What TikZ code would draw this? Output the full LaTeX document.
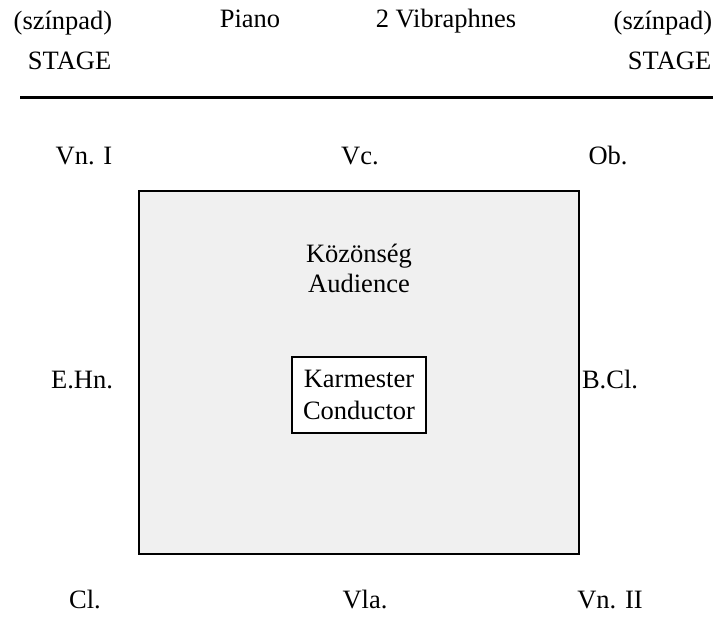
\documentclass[tikz,border=0pt]{standalone}
\usepackage{fontspec}
\setmainfont{Liberation Serif}
\usetikzlibrary{positioning}

\begin{document}
\begin{tikzpicture}[x=1pt,y=-1pt]
\tikzset{PlayerStyle/.style = {font=\fontsize{26.5}{31}\selectfont, inner sep=0pt, align=center}}
\tikzset{LineStyle/.style = {PlayerStyle, text height=18pt, text depth=6pt}}
\tikzset{StageStyle/.style = {PlayerStyle, font=\fontsize{26.5}{40}\selectfont}}
\tikzset{HallStyle/.style = {draw, line width=2.5pt, fill=black!6}}
\tikzset{PodiumStyle/.style = {draw, line width=2pt, fill=white, minimum width=134pt, minimum height=76pt}}
\useasboundingbox (0,0) rectangle (723,616);
% stage
\node[StageStyle](SL) at (63,40){(színpad)\\\ \ STAGE};
\node[LineStyle](Pno) at (250,21){Piano};
\node[LineStyle](Vib) at (446,21){2 Vibraphnes};
\node[StageStyle](SR) at (663,40){(színpad)\\\ \ STAGE};
\coordinate (stageL) at (20,97);
\coordinate (stageR) at (713,97);
\draw[line width=3pt](stageL) -- (stageR);
% hall
\node[HallStyle, minimum width=440pt, minimum height=363pt](Hall) at (359,372.5){};
\node[PlayerStyle, font=\fontsize{26.5}{30}\selectfont](Aud) at (359,268){Közönség\\Audience};
\node[PodiumStyle, PlayerStyle, font=\fontsize{26.5}{32}\selectfont](Cond) at (359,395){Karmester\\Conductor};
% players
\node[LineStyle](VnI) at (84,158){Vn. I};
\node[LineStyle](Vc) at (360,158){Vc.};
\node[LineStyle](Ob) at (608,158){Ob.};
\node[LineStyle](EHn) at (82,382){E.Hn.};
\node[LineStyle](BCl) at (610,382){B.Cl.};
\node[LineStyle](Cl) at (85,602){Cl.};
\node[LineStyle](Vla) at (365,602){Vla.};
\node[LineStyle](VnII) at (610,602){Vn. II};
\end{tikzpicture}
\end{document}
